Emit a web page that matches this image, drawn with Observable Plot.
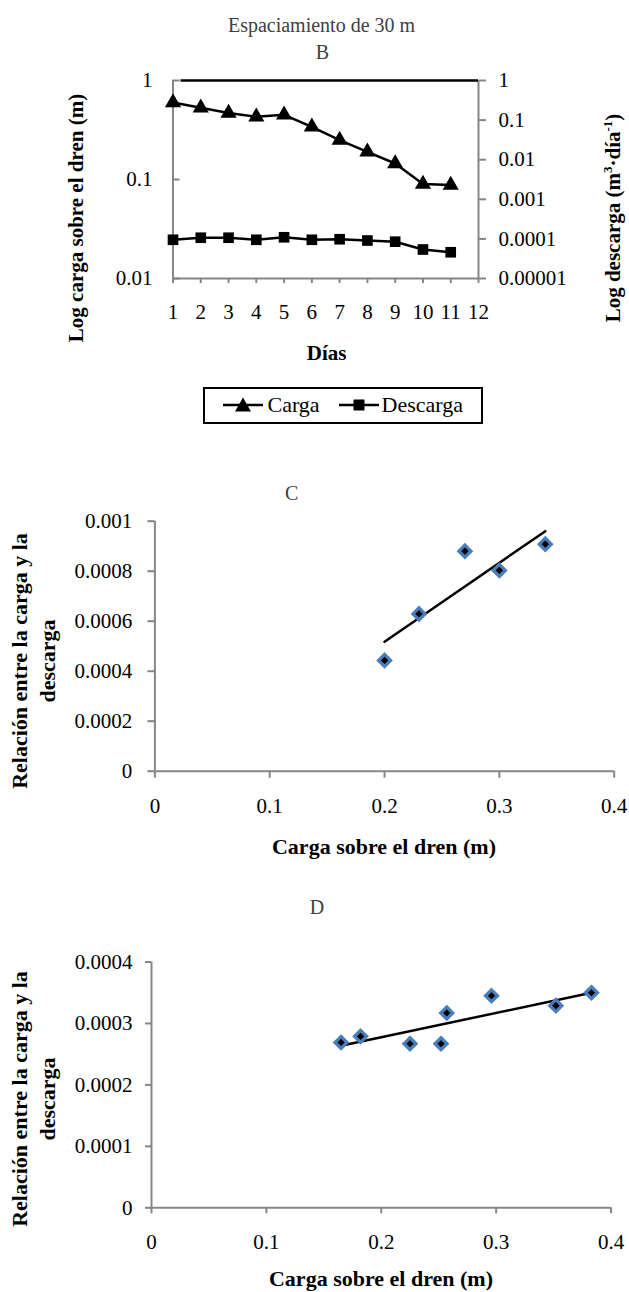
<!DOCTYPE html>
<html><head><meta charset="utf-8">
<script src="https://cdn.jsdelivr.net/npm/d3@7"></script>
<script src="https://cdn.jsdelivr.net/npm/@observablehq/plot@0.6"></script>
<style>
body{margin:0;background:#fff;}
#page{position:relative;width:629px;height:1292px;font-family:"Liberation Serif","Times New Roman",serif;overflow:hidden;background:#fff;}
.abs{position:absolute;white-space:nowrap;line-height:1;}
.c{transform:translate(-50%,-50%);}
.r{transform:translate(-50%,-50%) rotate(-90deg);}
.b{font-weight:bold;}
.panel{position:absolute;left:0;}
sup{font-size:0.62em;line-height:0;vertical-align:0.55em;}
</style></head><body><div id="page"></div>
<script>
// ---- Panel B data ----
const dias = [1, 2, 3, 4, 5, 6, 7, 8, 9, 10, 11];
const carga = [0.6, 0.53, 0.47, 0.43, 0.45, 0.34, 0.25, 0.19, 0.145, 0.09, 0.088];
const descarga = [9.5e-5, 1.07e-4, 1.07e-4, 9.5e-5, 1.1e-4, 9.5e-5, 9.8e-5, 9.1e-5, 8.5e-5, 5.4e-5, 4.6e-5];
const diasTicks = [1, 2, 3, 4, 5, 6, 7, 8, 9, 10, 11, 12];
const cargaTicks = [1, 0.1, 0.01];
const descargaTicks = [1, 0.1, 0.01, 0.001, 0.0001, 0.00001];
const descargaTickLabels = ["1", "0.1", "0.01", "0.001", "0.0001", "0.00001"];
const seriesNames = ["Carga", "Descarga"];

// ---- Panel C data ----
const cargaC = [0.2, 0.23, 0.27, 0.3, 0.34];
const relacionC = [0.000443, 0.000629, 0.00088, 0.000803, 0.000908];
const relTicksC = [0, 0.0002, 0.0004, 0.0006, 0.0008, 0.001];

// ---- Panel D data ----
const cargaD = [0.165, 0.182, 0.225, 0.252, 0.257, 0.296, 0.352, 0.383];
const relacionD = [0.000269, 0.000279, 0.000267, 0.000267, 0.000317, 0.000345, 0.000329, 0.00035];
const relTicksD = [0, 0.0001, 0.0002, 0.0003, 0.0004];

const cargaTicksX = [0, 0.1, 0.2, 0.3, 0.4];

const GRAY = "#868686";
const BLUE = "#4a7ebb";
const FONT = '"Liberation Serif","Times New Roman",serif';
const style = {fontFamily: FONT, fontSize: "21px", color: "#000", background: "none", overflow: "visible"};

// right (descarga) log axis 1e-5..1 mapped onto left (carga) log axis 0.01..1
const toLeft = d => Math.pow(d, 0.4);
const descAxis = descargaTicks.map((d, i) => ({pos: toLeft(d), label: descargaTickLabels[i]}));

const B = dias.map((d, i) => ({dia: d, carga: carga[i], descarga: descarga[i]}));
const C = cargaC.map((x, i) => ({x, y: relacionC[i]}));
const D = cargaD.map((x, i) => ({x, y: relacionD[i]}));

const page = document.getElementById("page");
function add(html, cls, x, y, size, extra) {
  const el = document.createElement("div");
  el.className = "abs " + cls;
  el.style.left = x + "px"; el.style.top = y + "px";
  el.style.fontSize = size + "px";
  if (extra) Object.assign(el.style, extra);
  el.innerHTML = html;
  page.appendChild(el);
  return el;
}
function panel(svg, top) {
  const w = document.createElement("div");
  w.className = "panel"; w.style.top = top + "px";
  w.appendChild(svg); page.appendChild(w);
}

// ---- Panel B ----
const plotB = Plot.plot({
  width: 629, height: 380,
  marginLeft: 172.5, marginRight: 151, marginTop: 80, marginBottom: 102,
  style,
  x: {domain: [1, 12]},
  y: {type: "log", domain: [0.01, 1]},
  marks: [
    Plot.ruleX([1, 12], {stroke: GRAY, strokeWidth: 2}),
    Plot.ruleY([0.01], {stroke: GRAY, strokeWidth: 2}),
    Plot.ruleY([1], {stroke: "black", strokeWidth: 2.5, insetLeft: 8}),
    Plot.axisX({ticks: diasTicks, tickSize: 5, tickPadding: 21, stroke: GRAY, strokeWidth: 2, label: null, tickFormat: d => String(d)}),
    Plot.axisY({anchor: "left", ticks: cargaTicks, tickSize: -7, tickPadding: 27.5, stroke: GRAY, strokeWidth: 2, label: null, tickFormat: d => String(d)}),
    Plot.axisY({anchor: "right", ticks: descAxis.map(d => d.pos), tickSize: 7, tickPadding: 13, stroke: GRAY, strokeWidth: 2, label: null, tickFormat: () => ""}),
    Plot.text(descAxis, {y: "pos", text: "label", frameAnchor: "right", dx: 20, textAnchor: "start", fill: "#000"}),
    Plot.line(B, {x: "dia", y: "carga", stroke: "black", strokeWidth: 2.5}),
    Plot.dot(B, {x: "dia", y: "carga", symbol: "triangle", r: 6, fill: "black"}),
    Plot.line(B, {x: "dia", y: d => toLeft(d.descarga), stroke: "black", strokeWidth: 2.5}),
    Plot.dot(B, {x: "dia", y: d => toLeft(d.descarga), symbol: "square", r: 6, fill: "black"})
  ]
});
panel(plotB, 0);

// ---- Panel C ----
const plotC = Plot.plot({
  width: 629, height: 360,
  marginLeft: 154.4, marginRight: 15.3, marginTop: 40.7, marginBottom: 69.3,
  style,
  x: {domain: [0, 0.4]},
  y: {domain: [0, 0.001]},
  marks: [
    Plot.ruleX([0], {stroke: GRAY, strokeWidth: 2}),
    Plot.ruleY([0], {stroke: GRAY, strokeWidth: 2}),
    Plot.axisX({ticks: cargaTicksX, tickSize: 7, tickPadding: 20, stroke: GRAY, strokeWidth: 2, label: null, tickFormat: d => String(d)}),
    Plot.axisY({ticks: relTicksC, tickSize: 7, tickPadding: 15.6, stroke: GRAY, strokeWidth: 2, label: null, tickFormat: d => String(d)}),
    Plot.linearRegressionY(C, {x: "x", y: "y", stroke: "black", strokeWidth: 2.5, ci: 0}),
    Plot.dot(C, {x: "x", y: "y", symbol: "diamond2", r: 5.4, fill: "black", stroke: BLUE, strokeWidth: 3.3})
  ]
});
panel(plotC, 480);

// ---- Panel D ----
const plotD = Plot.plot({
  width: 629, height: 330,
  marginLeft: 151, marginRight: 18.5, marginTop: 31.5, marginBottom: 52.7,
  style,
  x: {domain: [0, 0.4]},
  y: {domain: [0, 0.0004]},
  marks: [
    Plot.ruleX([0], {stroke: GRAY, strokeWidth: 2}),
    Plot.ruleY([0], {stroke: GRAY, strokeWidth: 2}),
    Plot.axisX({ticks: cargaTicksX, tickSize: 6, tickPadding: 20, stroke: GRAY, strokeWidth: 2, label: null, tickFormat: d => String(d)}),
    Plot.axisY({ticks: relTicksD, tickSize: 6, tickPadding: 13, stroke: GRAY, strokeWidth: 2, label: null, tickFormat: d => String(d)}),
    Plot.linearRegressionY(D, {x: "x", y: "y", stroke: "black", strokeWidth: 2.5, ci: 0}),
    Plot.dot(D, {x: "x", y: "y", symbol: "diamond2", r: 5.4, fill: "black", stroke: BLUE, strokeWidth: 3.3})
  ]
});
panel(plotD, 930);

// ---- Texts ----
add("Espaciamiento de 30 m", "c", 321.5, 25, 20, {color: "#404040"});
add("B", "c", 322.5, 51.5, 20, {color: "#404040"});
add("Log carga sobre el dren (m)", "r b", 76, 218, 21);
add("Log descarga (m<sup>3</sup>·día<sup>-1</sup>)", "r b", 613, 218, 21);
add("Días", "c b", 326.7, 353, 21);

add("C", "c", 291.6, 493.3, 20, {color: "#404040"});
add("Relación entre la carga y la<br>descarga", "r b", 34, 661, 22, {lineHeight: "28px", textAlign: "center"});
add("Carga sobre el dren (m)", "c b", 384, 846.5, 22);

add("D", "c", 317, 906.7, 20, {color: "#404040"});
add("Relación entre la carga y la<br>descarga", "r b", 34, 1099, 22, {lineHeight: "28px", textAlign: "center"});
add("Carga sobre el dren (m)", "c b", 381, 1278.5, 22);

// ---- Legend ----
const box = document.createElement("div");
Object.assign(box.style, {position: "absolute", left: "203px", top: "386.5px", width: "276px", height: "33px", border: "2px solid #000", boxSizing: "content-box"});
page.appendChild(box);
function swatch(x, shape) {
  const ns = "http://www.w3.org/2000/svg";
  const s = document.createElementNS(ns, "svg");
  s.setAttribute("width", 40); s.setAttribute("height", 20);
  Object.assign(s.style, {position: "absolute", left: x + "px", top: "395px"});
  const l = document.createElementNS(ns, "line");
  l.setAttribute("x1", 0); l.setAttribute("x2", 40); l.setAttribute("y1", 10); l.setAttribute("y2", 10);
  l.setAttribute("stroke", "#000"); l.setAttribute("stroke-width", 2.5);
  s.appendChild(l);
  const p = document.createElementNS(ns, "path");
  p.setAttribute("d", shape === "triangle" ? "M20,2.5L28,16.5L12,16.5Z" : "M14.5,4.5H25.5V15.5H14.5Z");
  p.setAttribute("fill", "#000");
  s.appendChild(p);
  page.appendChild(s);
}
swatch(223, "triangle");
swatch(339, "square");
add(seriesNames[0], "", 267.5, 394, 22);
add(seriesNames[1], "", 381.5, 394, 22);
</script></body></html>
